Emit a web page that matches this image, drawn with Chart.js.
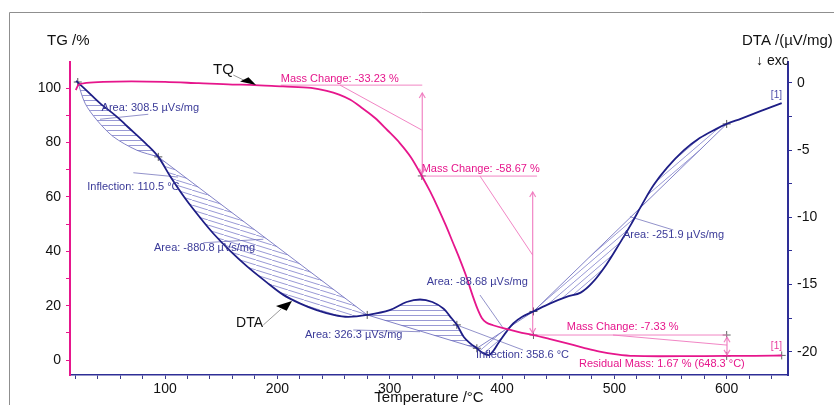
<!DOCTYPE html>
<html><head><meta charset="utf-8">
<script src="https://cdn.jsdelivr.net/npm/chart.js@4.4.1/dist/chart.umd.min.js"></script>
<style>html,body{margin:0;padding:0;background:#fff;}#wrap{width:834px;height:405px;position:relative;}</style>
</head><body><div id="wrap"><canvas id="c" width="834" height="405"></canvas></div>
<script>
// ---------- data (temperature °C, value) ----------
const tgCurve = [[20.5,99.3],[23,101.2],[30,101.9],[45,102.3],[70,102.5],[100,102.3],[130,101.8],[160,101.3],[176,101.2],[205,100.6],[230,100.1],[244,99.0],[255,97.6],[265,95.7],[276,92.5],[287,89],[298,84.5],[309,79.8],[319,74.5],[328.6,67.7],[336,62],[343,56],[350,49.5],[356,43.5],[362,37.5],[368,31],[374,23.5],[378,19],[382,15.5],[386,13.8],[392,12.8],[401,11.7],[415,10.3],[428,9.2],[442,7.8],[458,6.1],[472,4.6],[487,3.1],[502,2.1],[517,1.5],[540,1.4],[570,1.45],[600,1.5],[625,1.55],[649,1.67]];
const dtaCurve = [[20.8,0.15],[30,-0.55],[42,-1.5],[57,-2.5],[66,-3.2],[84,-4.6],[94,-5.5],[105,-7.0],[118,-8.6],[131,-10.0],[143,-11.2],[158,-12.5],[173,-13.65],[190,-14.8],[205,-15.75],[220,-16.4],[235,-16.9],[250,-17.25],[263,-17.4],[280,-17.26],[300,-16.9],[315,-16.3],[327,-16.1],[338,-16.3],[348,-16.8],[354,-17.4],[359.8,-18.0],[366,-18.9],[372,-19.4],[377.6,-19.74],[382,-20.05],[389,-20.22],[398,-19.2],[404,-18.5],[410,-17.9],[418,-17.4],[428,-17.0],[443,-16.4],[458,-15.9],[470,-15.6],[480,-14.9],[493,-13.5],[505,-11.9],[515,-10.5],[525,-9.0],[535,-7.6],[547,-6.3],[562,-5.0],[576,-4.1],[590,-3.45],[600,-3.05],[613,-2.65],[630,-2.1],[649,-1.5]];
const area1Baseline = [[22.3,0.07],[28.8,-1.51],[39.2,-2.75],[54,-4.0],[74.8,-5.0],[94,-5.5]];
const chordEnds = [[94,-5.5],[280,-17.26],[377.6,-19.74],[428,-17.0],[600,-3.05]];
const dtaMarkers = [[22.3,0.07],[94,-5.5],[280,-17.26],[359.8,-18.0],[377.6,-19.74],[428,-17.0],[600,-3.05]];
const tgMarkers = [[328.6,67.7],[428,9.2],[600,9.2],[600,1.5],[649,1.7]];
const xTickValues = [20,40,60,80,100,120,140,160,180,200,220,240,260,280,300,320,340,360,380,400,420,440,460,480,500,520,540,560,580,600,620,640];
const tgTickValues = [0,10,20,30,40,50,60,70,80,90,100];
const dtaTickValues = [-20,-17.5,-15,-12.5,-10,-7.5,-5,-2.5,0];
const dtaLabels = [
 ['Area: 308.5 µVs/mg',43.5,-1.86],['Inflection: 110.5 °C',30.8,-7.72],['Area: -880.8 µVs/mg',90.2,-12.3],
 ['Area: 326.3 µVs/mg',224.6,-18.76],['Area: -88.68 µVs/mg',332.9,-14.83],['Inflection: 358.6 °C',376.8,-20.25],
 ['Area: -251.9 µVs/mg',507.7,-11.31]];
const tgLabels = [
 ['Mass Change: -33.23 %',203,103.3],['Mass Change: -58.67 %',328.5,70.1],
 ['Mass Change: -7.33 %',457.6,12.0],['Residual Mass: 1.67 % (648.3 °C)',468.5,-1.58]];
const dtaLeaders = [[[42.1,-2.70],[85.1,-2.33]],[[71.8,-6.68],[111.6,-7.0]],[[134.1,-11.89],[187.5,-11.63]],
 [[267.6,-18.38],[327,-18.51]],[[380.4,-15.78],[401.2,-18.26]],[[513.9,-9.95],[552.5,-10.94]],[[359.7,-18.01],[418.7,-19.87]]];
const tgGuides = [[[203,101.1],[329,101.1]],[[255.8,101.1],[328.5,84.6]],[[328.5,67.65],[431.2,67.65]],
 [[380.4,67.65],[427.3,38.6]],[[427.6,9.2],[600.3,9.2]],[[498.8,9.2],[600.3,5.5]]];
const tgArrows = [[329,98.2,68.6],[427.3,61.8,9.9],[600.3,8.4,1.9]];
const pointerTQ = {text:'TQ', at:[142.7,106.6], line:[[160.8,104.8],[170.3,102.9]], tri:[[166.8,102.4],[174.3,104.0],[181,101.1]]};
const pointerDTA = {text:'DTA', at:[163.2,13.7], line:[[187.5,12.9],[203.3,18.75]], tri:[[198.8,19.85],[208.3,18.1],[213,21.7]]};
const endTags = [['[1]',644.3,'yDTA',-0.89,'#4a4aa8'],['[1]',644.3,'yTG',4.9,'#e83a9c']];

// ---------- styles ----------
const MAG='#e6168c', PINK='rgba(240,120,190,0.9)', NAVY='#1e1e86', NAVYL='rgba(90,90,180,0.75)', NAVYT='#3a3a98';
function hatch(kind){
  const c=document.createElement('canvas'); let w,h;
  if(kind==='h'){w=4;h=5;} else if(kind==='bs'){w=16;h=5;} else {w=7;h=6;}
  c.width=w;c.height=h; const g=c.getContext('2d'); g.strokeStyle='rgba(85,85,185,0.6)'; g.lineWidth=1;
  g.beginPath();
  if(kind==='h'){g.moveTo(0,0.5);g.lineTo(w,0.5);}
  else if(kind==='bs'){for(const d of [-1,0,1]){g.moveTo(d*w,d*h);g.lineTo(d*w+w,d*h+h);}}
  else {for(const d of [-1,0,1]){g.moveTo(d*w,h-d*h);g.lineTo(d*w+w,-d*h);}}
  g.stroke(); return g.createPattern(c,'repeat');
}
const P = a => a.map(p=>({x:p[0],y:p[1]}));
function seg(a,b){return dtaCurve.filter(p=>p[0]>=a&&p[0]<=b);}
const shapes = [
 {pts:[area1Baseline[0]].concat(seg(22.5,94)).concat(area1Baseline.slice().reverse()), pat:'h'},
 {pts:seg(94,280).concat([chordEnds[0]]), pat:'bs'},
 {pts:seg(280,377.6).concat([chordEnds[1]]), pat:'h'},
 {pts:seg(377.6,428).concat([chordEnds[2]]), pat:'fs'},
 {pts:seg(428,600).concat([chordEnds[3]]), pat:'fs'}];

const datasets = [
 {data:P(tgCurve), yAxisID:'yTG', borderColor:MAG, borderWidth:1.8, pointRadius:0, cubicInterpolationMode:'monotone', fill:false},
 {data:P(dtaCurve), yAxisID:'yDTA', borderColor:NAVY, borderWidth:1.8, pointRadius:0, tension:0.35, fill:false},
 {data:P(area1Baseline), yAxisID:'yDTA', borderColor:NAVYL, borderWidth:1, pointRadius:0, tension:0.3, fill:false}
];
for(let i=1;i<chordEnds.length;i++) datasets.push({data:P([chordEnds[i-1],chordEnds[i]]), yAxisID:'yDTA', borderColor:NAVYL, borderWidth:1, pointRadius:0, fill:false});
for(const L of dtaLeaders) datasets.push({data:P(L), yAxisID:'yDTA', borderColor:'rgba(100,100,180,0.7)', borderWidth:1, pointRadius:0, fill:false});
for(const L of tgGuides) datasets.push({data:P(L), yAxisID:'yTG', borderColor:PINK, borderWidth:1, pointRadius:0, fill:false});
for(const A of tgArrows) datasets.push({data:P([[A[0],A[1]],[A[0],A[2]]]), yAxisID:'yTG', borderColor:PINK, borderWidth:1.2, pointRadius:0, fill:false});
for(const S of shapes) datasets.push({data:P(S.pts), yAxisID:'yDTA', borderWidth:0, borderColor:'rgba(0,0,0,0)', backgroundColor:hatch(S.pat), pointRadius:0, tension:0, fill:'shape'});
datasets.push({data:P(dtaMarkers), yAxisID:'yDTA', showLine:false, pointStyle:'cross', pointRadius:4, borderColor:'#555', borderWidth:1, backgroundColor:'#555'});
datasets.push({data:P(tgMarkers), yAxisID:'yTG', showLine:false, pointStyle:'cross', pointRadius:4, borderColor:'#666', borderWidth:1, backgroundColor:'#666'});
datasets.forEach((d,i)=>{d.order=i;});

const annot = {
 id:'annot',
 beforeDraw(chart){
   const ctx=chart.ctx; ctx.save(); ctx.strokeStyle='#8f8f8f'; ctx.lineWidth=1;
   ctx.beginPath(); ctx.moveTo(9.5,405); ctx.lineTo(9.5,12.5); ctx.lineTo(834,12.5); ctx.stroke(); ctx.restore();
 },
 afterDatasetsDraw(chart){
   const ctx=chart.ctx, x=chart.scales.x, sc={yTG:chart.scales.yTG,yDTA:chart.scales.yDTA};
   const px=(t,ax,v)=>[x.getPixelForValue(t),sc[ax].getPixelForValue(v)];
   ctx.save();
   ctx.textBaseline='middle'; ctx.textAlign='left';
   ctx.font='11px "Liberation Sans", Arial, sans-serif'; ctx.fillStyle=NAVYT;
   for(const L of dtaLabels){const p=px(L[1],'yDTA',L[2]); ctx.fillText(L[0],p[0],p[1]);}
   ctx.fillStyle=MAG;
   for(const L of tgLabels){const p=px(L[1],'yTG',L[2]); ctx.fillText(L[0],p[0],p[1]);}
   ctx.textAlign='center'; ctx.font='10px "Liberation Sans", Arial, sans-serif';
   for(const E of endTags){const p=px(E[1],E[2],E[3]); ctx.fillStyle=E[4]; ctx.fillText(E[0],p[0],p[1]);}
   ctx.strokeStyle=PINK; ctx.lineWidth=1.2;
   for(const A of tgArrows){
     const t=px(A[0],'yTG',A[1]), b=px(A[0],'yTG',A[2]);
     ctx.beginPath(); ctx.moveTo(t[0]-3,t[1]+5); ctx.lineTo(t[0],t[1]); ctx.lineTo(t[0]+3,t[1]+5);
     ctx.moveTo(b[0]-3,b[1]-5); ctx.lineTo(b[0],b[1]); ctx.lineTo(b[0]+3,b[1]-5); ctx.stroke();
   }
   ctx.textAlign='left';
   for(const [Pt,fs] of [[pointerTQ,15],[pointerDTA,14]]){
     ctx.font=fs+'px "Liberation Sans", Arial, sans-serif'; ctx.fillStyle='#111';
     const a=px(Pt.at[0],'yTG',Pt.at[1]); ctx.fillText(Pt.text,a[0],a[1]);
     const l0=px(Pt.line[0][0],'yTG',Pt.line[0][1]), l1=px(Pt.line[1][0],'yTG',Pt.line[1][1]);
     ctx.strokeStyle='#9a9a9a'; ctx.lineWidth=1; ctx.beginPath(); ctx.moveTo(l0[0],l0[1]); ctx.lineTo(l1[0],l1[1]); ctx.stroke();
     ctx.fillStyle='#000'; ctx.beginPath();
     Pt.tri.forEach((q,i)=>{const r=px(q[0],'yTG',q[1]); if(i) ctx.lineTo(r[0],r[1]); else ctx.moveTo(r[0],r[1]);});
     ctx.closePath(); ctx.fill();
   }
   ctx.fillStyle='#111'; ctx.font='15px "Liberation Sans", Arial, sans-serif';
   ctx.textAlign='left'; ctx.fillText('TG /%',47,41); ctx.fillText('DTA /(µV/mg)',742,41);
   ctx.save(); ctx.beginPath(); ctx.rect(740,50,47.5,25); ctx.clip();
   ctx.font='14px "Liberation Sans", Arial, sans-serif'; ctx.fillText('\u2193 exo',756,61);
   ctx.restore();
   ctx.font='15px "Liberation Sans", Arial, sans-serif'; ctx.textAlign='center'; ctx.fillText('Temperature /°C',429,398);
   ctx.restore();
 }
};

const tickFont={family:'"Liberation Sans", Arial, sans-serif', size:14};
new Chart(document.getElementById('c'),{
 type:'line',
 data:{datasets},
 options:{
  responsive:false, animation:false, devicePixelRatio:1,
  layout:{padding:{top:62,left:0,right:0,bottom:0}},
  plugins:{legend:{display:false}, tooltip:{enabled:false}},
  scales:{
   x:{type:'linear', min:15.4, max:654.6, position:'bottom',
      afterBuildTicks:s=>{s.ticks=xTickValues.map(v=>({value:v}));},
      afterFit:s=>{s.height=30;},
      ticks:{autoSkip:false, maxRotation:0, padding:2, color:'#111', font:tickFont, callback:v=>(v%100===0?String(v):'')},
      grid:{drawOnChartArea:false, tickLength:4, tickColor:'#3a3a8a'},
      border:{color:'#2e2e96', width:1.5}},
   yTG:{type:'linear', position:'left', min:-5.5, max:109.6,
      afterBuildTicks:s=>{s.ticks=tgTickValues.map(v=>({value:v}));},
      afterFit:s=>{s.width=70;},
      ticks:{autoSkip:false, padding:5, color:'#111', font:tickFont, callback:v=>(v%20===0?String(v):'')},
      grid:{drawOnChartArea:false, tickLength:4, tickColor:MAG},
      border:{color:MAG, width:2}},
   yDTA:{type:'linear', position:'right', min:-21.73, max:1.56,
      afterBuildTicks:s=>{s.ticks=dtaTickValues.map(v=>({value:v}));},
      afterFit:s=>{s.width=46;},
      ticks:{autoSkip:false, padding:5, color:'#111', font:tickFont, callback:v=>(v%5===0?String(v):'')},
      grid:{drawOnChartArea:false, tickLength:4, tickColor:'#2e2e96'},
      border:{color:'#2e2e96', width:2}}
  }
 },
 plugins:[annot]
});
</script></body></html>
